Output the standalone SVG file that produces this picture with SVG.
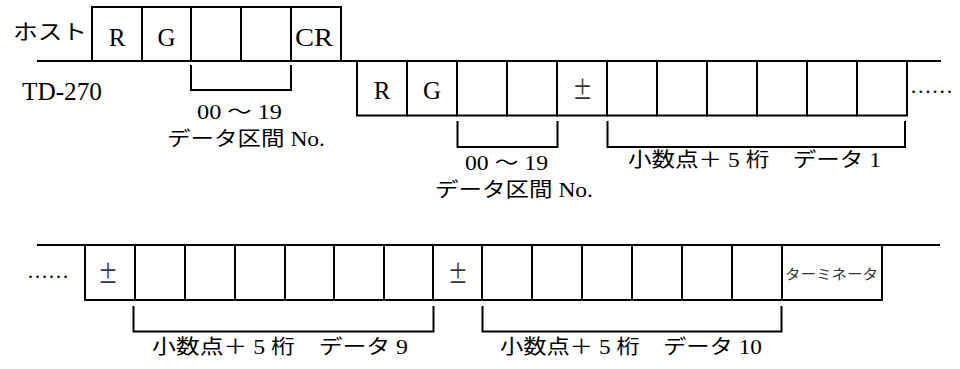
<svg xmlns="http://www.w3.org/2000/svg" width="960" height="369" viewBox="0 0 960 369">
<style>
.c{fill:#fff;stroke:#000;stroke-width:2}
.ln{fill:none;stroke:#000;stroke-width:2}
text{font-family:"Liberation Serif","Noto Sans CJK JP",serif;fill:#000;font-size:20px}
.m{text-anchor:middle;font-size:25px}
.pm{font-family:"Noto Sans CJK JP","Liberation Serif",sans-serif;font-size:25px;fill:#333}
.t{font-size:14px;fill:#333}
</style>
<rect width="960" height="369" fill="#fff"/>
<g id="connectors">
<path class="ln" d="M37,61 H941"/>
<path class="ln" d="M37,245 H940"/>
<path class="ln" d="M191,65 V90 H291 V65"/>
<path class="ln" d="M457.5,121 V147 H557.5 V121"/>
<path class="ln" d="M607.5,121 V147 H905 V121"/>
<path class="ln" d="M133.5,306 V331.5 H433.5 V306"/>
<path class="ln" d="M482.5,306 V331.5 H781.5 V306"/>
</g>
<g id="labels">
<text x="13" y="39" style="font-size:21px" textLength="74" lengthAdjust="spacingAndGlyphs">ホスト</text>
<text x="22" y="100" style="font-size:25px" textLength="80" lengthAdjust="spacingAndGlyphs">TD-270</text>
<text x="197" y="119" textLength="85" lengthAdjust="spacingAndGlyphs">00 ～ 19</text>
<text x="167" y="146" textLength="158" lengthAdjust="spacingAndGlyphs">データ区間 No.</text>
<text x="465" y="170" textLength="83" lengthAdjust="spacingAndGlyphs">00 ～ 19</text>
<text x="435" y="197" textLength="158" lengthAdjust="spacingAndGlyphs">データ区間 No.</text>
<text x="628" y="167" textLength="253" lengthAdjust="spacingAndGlyphs">小数点＋ 5 桁　データ 1</text>
<text x="152" y="354" textLength="256" lengthAdjust="spacingAndGlyphs">小数点＋ 5 桁　データ 9</text>
<text x="500" y="354" textLength="262" lengthAdjust="spacingAndGlyphs">小数点＋ 5 桁　データ 10</text>
<text x="910" y="93" textLength="43" lengthAdjust="spacingAndGlyphs">……</text>
<text x="27" y="278" textLength="42" lengthAdjust="spacingAndGlyphs">……</text>
</g>
<g id="host">
<g id="h1"><rect class="c" x="92" y="7" width="50" height="54"/><text class="m" x="117" y="46">R</text></g>
<g id="h2"><rect class="c" x="142" y="7" width="49" height="54"/><text class="m" x="166.5" y="46">G</text></g>
<g id="h3"><rect class="c" x="191" y="7" width="50" height="54"/></g>
<g id="h4"><rect class="c" x="241" y="7" width="50" height="54"/></g>
<g id="h5"><rect class="c" x="291" y="7" width="50" height="54"/><text class="m" x="314" y="46" textLength="38" lengthAdjust="spacingAndGlyphs">CR</text></g>
</g>
<g id="td">
<g id="t1"><rect class="c" x="357" y="61" width="50" height="54.5"/><text class="m" x="382" y="99">R</text></g>
<g id="t2"><rect class="c" x="407" y="61" width="50" height="54.5"/><text class="m" x="432" y="99">G</text></g>
<g id="t3"><rect class="c" x="457" y="61" width="50" height="54.5"/></g>
<g id="t4"><rect class="c" x="507" y="61" width="50" height="54.5"/></g>
<g id="t5"><rect class="c" x="557" y="61" width="50" height="54.5"/><text class="pm" x="572.5" y="99" textLength="20" lengthAdjust="spacingAndGlyphs">±</text></g>
<g id="t6"><rect class="c" x="607" y="61" width="50" height="54.5"/></g>
<g id="t7"><rect class="c" x="657" y="61" width="50" height="54.5"/></g>
<g id="t8"><rect class="c" x="707" y="61" width="50" height="54.5"/></g>
<g id="t9"><rect class="c" x="757" y="61" width="50" height="54.5"/></g>
<g id="t10"><rect class="c" x="807" y="61" width="50" height="54.5"/></g>
<g id="t11"><rect class="c" x="857" y="61" width="50" height="54.5"/></g>
</g>
<g id="tail">
<g id="b1"><rect class="c" x="85" y="245" width="50" height="55"/><text class="pm" x="98" y="283" textLength="20" lengthAdjust="spacingAndGlyphs">±</text></g>
<g id="b2"><rect class="c" x="135" y="245" width="50" height="55"/></g>
<g id="b3"><rect class="c" x="185" y="245" width="50" height="55"/></g>
<g id="b4"><rect class="c" x="235" y="245" width="50" height="55"/></g>
<g id="b5"><rect class="c" x="285" y="245" width="49" height="55"/></g>
<g id="b6"><rect class="c" x="334" y="245" width="50" height="55"/></g>
<g id="b7"><rect class="c" x="384" y="245" width="49" height="55"/></g>
<g id="b8"><rect class="c" x="433" y="245" width="49" height="55"/><text class="pm" x="448" y="283" textLength="20" lengthAdjust="spacingAndGlyphs">±</text></g>
<g id="b9"><rect class="c" x="482" y="245" width="50" height="55"/></g>
<g id="b10"><rect class="c" x="532" y="245" width="50" height="55"/></g>
<g id="b11"><rect class="c" x="582" y="245" width="50" height="55"/></g>
<g id="b12"><rect class="c" x="632" y="245" width="50" height="55"/></g>
<g id="b13"><rect class="c" x="682" y="245" width="50" height="55"/></g>
<g id="b14"><rect class="c" x="732" y="245" width="50" height="55"/></g>
<g id="b15"><rect class="c" x="782" y="245" width="100" height="55"/><text class="t" x="785" y="279" textLength="93" lengthAdjust="spacingAndGlyphs">ターミネータ</text></g>
</g>
</svg>
